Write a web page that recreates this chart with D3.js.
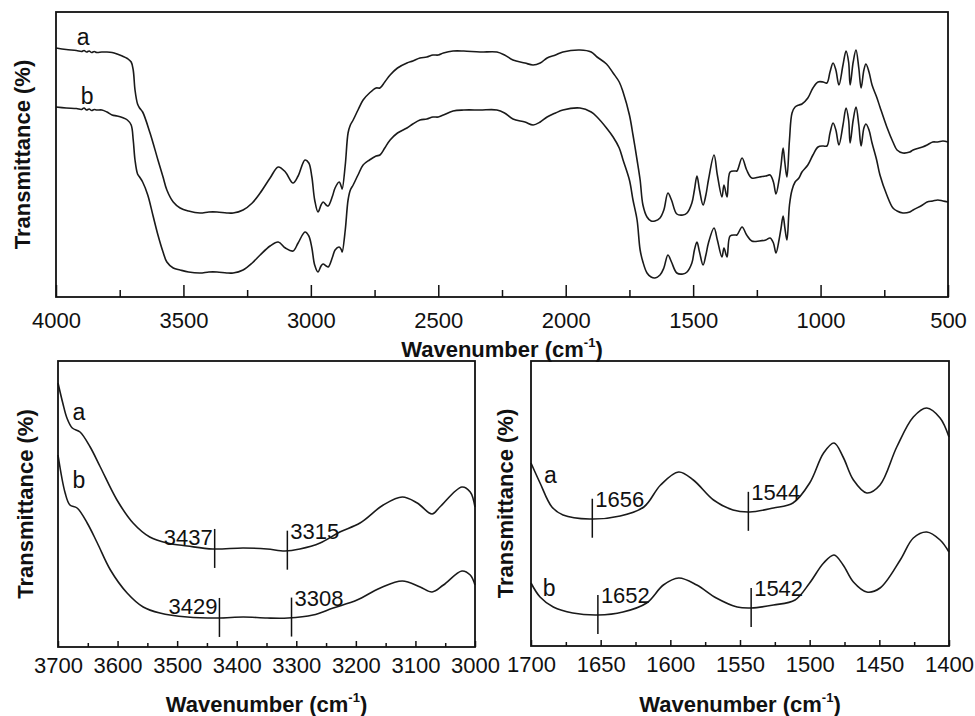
<!DOCTYPE html>
<html>
<head>
<meta charset="utf-8">
<script src="https://cdn.jsdelivr.net/npm/d3@7"></script>
<style>
  body { margin: 0; background: #fff; }
  svg { font-family: Arial, "Liberation Sans", Helvetica, sans-serif; }
</style>
</head>
<body>
<script>
// FTIR spectra, [wavenumber cm-1, transmittance a.u.]
var fullA = [[4000,249],[3960,247.5],[3920,246.5],[3900,245.5],[3890,246.5],[3880,245],[3870,246],[3860,244.5],[3850,245.5],[3840,244.5],[3820,245],[3800,245],[3780,244.5],[3760,243],[3740,241],[3720,238.5],[3705,235],[3697,227],[3690,207],[3680,193],[3672,189],[3660,185],[3631,164],[3600,137],[3580,120],[3565,107],[3540,95],[3513,89],[3480,86],[3435,84],[3400,85],[3368,85],[3330,84],[3305,84],[3266,87],[3230,94],[3199,104],[3160,119],[3128,130],[3100,125],[3070,114],[3050,121],[3023,137],[3008,134],[2996,120],[2985,97],[2972,85],[2960,92],[2952,95],[2940,92],[2932,91],[2915,101],[2905,109],[2889,115],[2880,110],[2877,108],[2865,132],[2854,164],[2845,172],[2834,177],[2815,187],[2795,197],[2770,204],[2744,209],[2729,209],[2710,215],[2689,222],[2660,229],[2623,234],[2600,236],[2572,239],[2545,240],[2521,242],[2500,242],[2480,244],[2442,246],[2400,246],[2336,245],[2270,245],[2240,242],[2207,237],[2160,234],[2128,232],[2100,234],[2073,239],[2040,242],[2011,245],[1944,247],[1900,245],[1877,240],[1840,233],[1814,224],[1790,215],[1775,205],[1750,182],[1736,162],[1720,137],[1708,117],[1697,92],[1681,80],[1665,76],[1650,76],[1630,79],[1615,87],[1599,104],[1585,97],[1564,83],[1540,82],[1524,84],[1505,94],[1495,107],[1485,121],[1475,107],[1461,92],[1450,102],[1440,117],[1418,142],[1405,122],[1387,100],[1379,112],[1367,100],[1355,125],[1335,126],[1328,126],[1308,139],[1290,127],[1270,119],[1240,120],[1215,121],[1198,122],[1185,115],[1175,103],[1163,117],[1155,132],[1147,149],[1140,134],[1132,120],[1122,157],[1112,184],[1100,190],[1085,192],[1073,193],[1050,199],[1030,209],[1010,215],[990,215],[975,214],[963,225],[951,234],[940,227],[928,212],[912,232],[900,246],[890,235],[884,212],[872,235],[861,247],[850,229],[841,209],[830,227],[822,233],[810,225],[798,212],[780,200],[767,190],[740,170],[716,155],[700,147],[677,144],[650,145],[637,147],[600,150],[582,152],[560,155],[540,155],[520,156],[500,155]];

var fullB = [[4000,190],[3960,189],[3920,188.5],[3900,187.5],[3890,189],[3880,187],[3870,188],[3860,186.5],[3850,187.5],[3840,187],[3820,187],[3800,185],[3780,182],[3760,181],[3740,179.5],[3720,177],[3705,172],[3697,157],[3690,137],[3680,123],[3672,120],[3660,115],[3640,102],[3620,82],[3600,62],[3580,45],[3565,35],[3540,29],[3513,27],[3480,25],[3435,24],[3400,25],[3368,25],[3330,24],[3305,24],[3266,27],[3230,34],[3199,42],[3160,51],[3128,55],[3100,49],[3070,46],[3050,54],[3023,65],[3008,61],[2996,49],[2985,32],[2972,25],[2960,31],[2952,33],[2940,31],[2932,30],[2915,40],[2905,47],[2889,50],[2880,47],[2877,45],[2865,67],[2854,97],[2845,107],[2834,112],[2815,122],[2795,132],[2770,137],[2744,141],[2729,142],[2710,149],[2689,157],[2660,164],[2623,169],[2600,173],[2572,177],[2545,178],[2521,180],[2500,180],[2480,182],[2442,186],[2400,187],[2336,187],[2270,187],[2240,184],[2207,178],[2160,175],[2128,172],[2100,175],[2073,180],[2040,184],[2011,187],[1944,189],[1900,185],[1877,180],[1840,169],[1814,160],[1790,149],[1775,137],[1750,117],[1736,97],[1720,77],[1708,47],[1697,35],[1681,24],[1665,20],[1650,19],[1630,22],[1615,29],[1599,42],[1585,35],[1564,24],[1540,23],[1524,25],[1505,34],[1495,47],[1485,55],[1475,45],[1461,32],[1450,42],[1440,54],[1418,69],[1405,57],[1387,40],[1379,49],[1367,40],[1355,61],[1335,62],[1328,62],[1308,70],[1290,62],[1270,56],[1240,56],[1215,57],[1198,59],[1185,54],[1175,44],[1163,57],[1155,69],[1147,81],[1140,69],[1132,57],[1122,92],[1112,107],[1100,115],[1085,119],[1073,125],[1050,132],[1030,142],[1010,150],[990,151],[975,151],[963,164],[951,174],[940,167],[928,152],[912,172],[900,189],[890,177],[884,154],[872,177],[861,190],[850,172],[841,151],[830,169],[822,173],[810,167],[798,154],[780,137],[767,122],[740,102],[716,89],[700,86],[677,84],[650,85],[637,87],[600,92],[582,95],[560,96],[540,97],[520,96],[500,95]];

var ohA = [[3700,264],[3692,244],[3685,229],[3676,219],[3663,215],[3646,200],[3629,180],[3601,147],[3574,124],[3546,110],[3517,104],[3483,101],[3440,98],[3389,99],[3349,98],[3319,96],[3294,98],[3260,104],[3227,115],[3193,124],[3154,142],[3122,150],[3097,144],[3072,133],[3059,140],[3022,160],[3008,155],[3000,140]];
var ohB = [[3700,192],[3688,154],[3680,142],[3668,139],[3651,124],[3634,104],[3612,77],[3584,54],[3557,40],[3529,34],[3483,30],[3431,29],[3389,30],[3349,29],[3314,29],[3272,32],[3238,39],[3198,47],[3159,59],[3122,66],[3092,60],[3072,55],[3053,62],[3022,76],[3008,72],[3000,62]];

var amA = [[1700,183],[1693.5,163],[1685,139],[1677,131],[1658,127],[1636,130],[1619,139],[1607,161],[1594,174],[1583.5,166],[1569,146],[1555,136],[1543,134],[1526,138],[1512,143],[1500,163],[1490,193],[1482.5,203],[1476,189],[1468.6,166],[1459,153],[1449.5,161],[1437.5,199],[1425.6,229],[1416,238],[1406.4,228],[1400,209]];
var amB = [[1700,63],[1693.5,49],[1684,39],[1670,33],[1652,31],[1634,34],[1617,43],[1605,61],[1594,68],[1581,61],[1567,48],[1552,39],[1542,38],[1526,41],[1510.5,46],[1500,63],[1490,83],[1482.5,91],[1476,81],[1468.6,64],[1459,54],[1449.5,58],[1435,86],[1425.6,108],[1416,114],[1406.4,106],[1400,94]];

var fullTicks = [4000, 3500, 3000, 2500, 2000, 1500, 1000, 500];
var ohTicks = [3700, 3600, 3500, 3400, 3300, 3200, 3100, 3000];
var amTicks = [1700, 1650, 1600, 1550, 1500, 1450, 1400];

// marked band positions
var ohPeaks = [
  {wn: 3437, series: "a", side: "end"},
  {wn: 3315, series: "a", side: "start"},
  {wn: 3429, series: "b", side: "end"},
  {wn: 3308, series: "b", side: "start"}
];
var amPeaks = [
  {wn: 1656, series: "a", side: "start"},
  {wn: 1544, series: "a", side: "start"},
  {wn: 1652, series: "b", side: "start"},
  {wn: 1542, series: "b", side: "start"}
];

var width = 975, height = 716;
var svg = d3.select("body").append("svg")
    .attr("width", width)
    .attr("height", height);

var panels = [
  {left: 56, right: 948, top: 12, bottom: 297, domain: [4000, 500], ymax: 285,
   a: fullA, b: fullB, ticks: fullTicks, minorStep: 250, majorLen: 12, minorLen: 7,
   pad: 15, titleY: 357, ylabX: 22, peaks: [],
   labA: [3893, 252], labB: [3878, 193]},
  {left: 58, right: 475, top: 361, bottom: 647, domain: [3700, 3000], ymax: 286,
   a: ohA, b: ohB, ticks: ohTicks, minorStep: 50, majorLen: 6, minorLen: 4,
   pad: 10, titleY: 712, ylabX: 25, peaks: ohPeaks,
   labA: [3665, 227], labB: [3665, 159]},
  {left: 531, right: 949, top: 361, bottom: 646, domain: [1700, 1400], ymax: 285,
   a: amA, b: amB, ticks: amTicks, minorStep: 25, majorLen: 6, minorLen: 4,
   pad: 10, titleY: 712, ylabX: 505, peaks: amPeaks,
   labA: [1686, 163], labB: [1687, 50]}
];

panels.forEach(drawPanel);

function drawPanel(p) {
  var x = d3.scaleLinear().domain(p.domain).range([p.left, p.right]);
  var y = d3.scaleLinear().domain([0, p.ymax]).range([p.bottom, p.top]);

  var line = d3.line()
      .x(function(d) { return x(d[0]); })
      .y(function(d) { return y(d[1]); })
      .curve(d3.curveCatmullRom.alpha(0.5));

  var g = svg.append("g");

  [p.a, p.b].forEach(function(s) {
    g.append("path")
      .datum(s)
      .attr("d", line)
      .attr("fill", "none")
      .attr("stroke", "#1a1a1a")
      .attr("stroke-width", 1.6);
  });

  // minor ticks
  var minor = d3.range(p.domain[0], p.domain[1] - 1, -p.minorStep)
      .filter(function(v) { return p.ticks.indexOf(v) < 0; });
  g.append("g")
    .attr("transform", "translate(0," + p.bottom + ")")
    .call(d3.axisBottom(x).tickValues(minor).tickFormat("").tickSizeInner(-p.minorLen).tickSizeOuter(0))
    .call(function(a) { a.select(".domain").remove(); })
    .selectAll("line").attr("stroke", "#111").attr("stroke-width", 1.5);

  // major ticks + labels
  var ax = g.append("g")
    .attr("transform", "translate(0," + p.bottom + ")")
    .call(d3.axisBottom(x).tickValues(p.ticks).tickFormat(d3.format("d"))
      .tickSizeInner(-p.majorLen).tickSizeOuter(0).tickPadding(p.pad));
  ax.select(".domain").remove();
  ax.selectAll("line").attr("stroke", "#111").attr("stroke-width", 1.5);
  ax.selectAll("text")
    .attr("font-size", 22)
    .attr("font-family", "Arial, 'Liberation Sans', sans-serif")
    .attr("fill", "#111");

  // frame
  g.append("rect")
    .attr("x", p.left).attr("y", p.top)
    .attr("width", p.right - p.left).attr("height", p.bottom - p.top)
    .attr("fill", "none").attr("stroke", "#111").attr("stroke-width", 1.8);

  // axis titles
  var t = g.append("text")
    .attr("x", (p.left + p.right) / 2)
    .attr("y", p.titleY)
    .attr("text-anchor", "middle")
    .attr("font-size", 22).attr("font-weight", "bold").attr("fill", "#111");
  t.append("tspan").text("Wavenumber (cm");
  t.append("tspan").attr("font-size", 13).attr("dy", -10).text("-1");
  t.append("tspan").attr("dy", 10).text(")");

  g.append("text")
    .attr("transform", "translate(" + p.ylabX + "," + (p.top + p.bottom) / 2 + ") rotate(-90)")
    .attr("dy", "0.36em")
    .attr("text-anchor", "middle")
    .attr("font-size", 22).attr("font-weight", "bold").attr("fill", "#111")
    .text("Transmittance (%)");

  // curve labels
  [["a", p.labA], ["b", p.labB]].forEach(function(l) {
    g.append("text")
      .attr("x", x(l[1][0])).attr("y", y(l[1][1]))
      .attr("text-anchor", "middle")
      .attr("font-size", 23).attr("fill", "#111")
      .text(l[0]);
  });

  // band markers
  var bis = d3.bisector(function(d) { return -d[0]; }).left;
  p.peaks.forEach(function(pk) {
    var s = pk.series === "a" ? p.a : p.b;
    var i = Math.max(1, bis(s, -pk.wn));
    var d0 = s[i - 1], d1 = s[i];
    var v = d0[1] + (d1[1] - d0[1]) * (pk.wn - d0[0]) / (d1[0] - d0[0]);
    var px = x(pk.wn), py = y(v);
    g.append("line")
      .attr("x1", px).attr("x2", px)
      .attr("y1", py - 20).attr("y2", py + 19)
      .attr("stroke", "#111").attr("stroke-width", 1.5);
    g.append("text")
      .attr("x", pk.side === "end" ? px - 2 : px + 3)
      .attr("y", pk.side === "end" ? py - 4 : py - 12)
      .attr("text-anchor", pk.side)
      .attr("font-size", 22).attr("fill", "#111")
      .text(pk.wn);
  });
}
</script>
</body>
</html>
